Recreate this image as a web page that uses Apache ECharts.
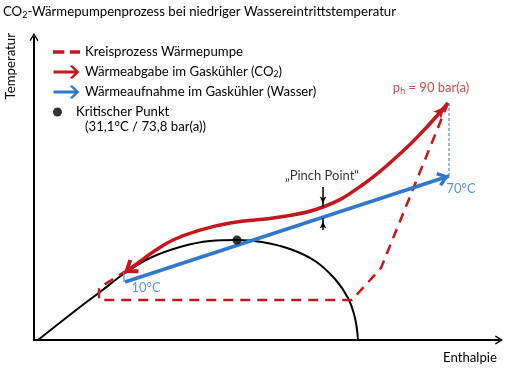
<!DOCTYPE html>
<html><head><meta charset="utf-8">
<script src="https://cdn.jsdelivr.net/npm/echarts@6/dist/echarts.min.js"></script>
<style>html,body{margin:0;padding:0;background:#fff}#c{width:506px;height:368px}</style>
</head><body><div id="c"></div>
<script>
// ---- data (x: Enthalpie, y: Temperatur; schematic units) ----
const saturationCurve = [[4,0],[46,33],[66,48],[91,67],[116,82],[146,93],[176,99],[203,100],[228,98],[256,91],[281,79],[301,61],[314,42],[321,22],[324,0]];
const criticalPoint = [[203,100]];
const co2HeatRelease = [[414,237],[391,211],[368,188],[327,154],[289,133],[246,123],[196,117],[163,109],[139,100],[119,88],[104,77],[90,67]];
const waterHeatUptake = [[91,58],[415,164]];
const heatPumpCycle = [[414,237],[347,72],[318,40],[65,40],[65,52],[90,68]];
const waterOutletGuide = [[415,237],[415,164]];
const waterInletGuide = [[90,68],[90,58]];
const pinchUpper = [[289,153],[289,133]];
const pinchLower = [[289,110],[289,122]];
const labelTexts = ['p{sub|h} = 90 bar(a)', '70°C', '10°C', '„Pinch Point“'];
const labelAnchors = [[397,252],[427,151],[112,52],[288,164]];
const seriesNames = ['Kreisprozess Wärmepumpe','Wärmeabgabe im Gaskühler (CO₂)','Wärmeaufnahme im Gaskühler (Wasser)','Kritischer Punkt'];
const criticalNote = '(31,1°C / 73,8 bar(a))';
const titleText = 'CO{sub|2}-Wärmepumpenprozess bei niedriger Wassereintrittstemperatur';
const xName = 'Enthalpie', yName = 'Temperatur';

// ---- styles ----
const F = 'Lato, "Open Sans", sans-serif';
const FS = 13.2;
const RED = '#c5161d', BLUE = '#2f78cf', LIGHTBLUE = '#6fa3dc', BLACK = '#000';
const labelColors = [RED, BLUE, BLUE, BLACK];
const CHEV = 'path://M7,0 L14,9 L11.5,11 L7,5 L2.5,11 L0,9 Z';
const AXARROW = 'path://M5,0 L10,8 L8.6,8.8 L5,2.6 L1.4,8.8 L0,8 Z';
const LEG_ARROW = 'path://M0,5.5 L21,5.5 L16.5,1.6 L18.4,0 L26,7 L18.4,14 L16.5,12.4 L21,8.5 L0,8.5 Z';
const LEG_DASH = 'path://M0,0h10v3h-10z M15,0h9v3h-9z';

function arrowSeg(tail, tip, len){
  const dx=tip[0]-tail[0], dy=tip[1]-tail[1], d=Math.hypot(dx,dy), ux=dx/d, uy=dy/d;
  const e=[tip[0]-ux*len/2, tip[1]-uy*len/2];
  return [e[0]-ux*0.6, e[1]-uy*0.6, e];
}
function mk(tail, tip, sym, size){
  const r = arrowSeg(tail, tip, size[1]);
  return [{coord:[r[0],r[1]], symbol:'none'}, {coord:r[2], symbol:sym, symbolSize:size}];
}
const n = co2HeatRelease.length;

const chart = echarts.init(document.getElementById('c'), null, {renderer:'canvas'});
chart.setOption({
  animation:false,
  backgroundColor:'#fff',
  title:{text:titleText, left:3, top:3, padding:0, textStyle:{fontFamily:F, fontSize:FS, fontWeight:'normal', color:BLACK, lineHeight:17,
    rich:{sub:{fontFamily:F, fontSize:9, lineHeight:9, verticalAlign:'bottom', color:BLACK}}}},
  grid:{left:34, right:7, top:37, bottom:28},
  xAxis:{type:'value', min:0, max:465, name:xName, nameLocation:'end', nameGap:-2,
    nameTextStyle:{fontFamily:F, fontSize:FS, color:BLACK, align:'right', verticalAlign:'top', padding:[11,0,0,0]},
    axisLine:{show:true, onZero:false, lineStyle:{color:BLACK, width:2}, symbol:['none', AXARROW], symbolSize:[10,8]},
    axisTick:{show:false}, axisLabel:{show:false}, splitLine:{show:false}},
  yAxis:{type:'value', min:0, max:303, name:yName, nameLocation:'end', nameGap:4, nameRotate:90,
    nameTextStyle:{fontFamily:F, fontSize:FS, color:BLACK, align:'right', verticalAlign:'bottom', padding:[0,0,17,0]},
    axisLine:{show:true, onZero:false, lineStyle:{color:BLACK, width:2}, symbol:['none', AXARROW], symbolSize:[10,8]},
    axisTick:{show:false}, axisLabel:{show:false}, splitLine:{show:false}},
  legend:[{
    orient:'vertical', left:53, top:45, padding:0, itemWidth:27, itemHeight:14, itemGap:6, selectedMode:false,
    textStyle:{fontFamily:F, fontSize:FS, color:BLACK, lineHeight:14, rich:{sub:{fontFamily:F, fontSize:8.5, lineHeight:8, verticalAlign:'bottom', color:BLACK}}},
    formatter: s => s.replace('₂','{sub|2}'),
    data:[{name:seriesNames[0], icon:LEG_DASH},{name:seriesNames[1], icon:LEG_ARROW},{name:seriesNames[2], icon:LEG_ARROW}]
  },{
    orient:'vertical', left:53, top:105, padding:0, itemWidth:27, itemHeight:9, selectedMode:false,
    textStyle:{fontFamily:F, fontSize:FS, color:BLACK, lineHeight:14},
    data:[{name:seriesNames[3], icon:'circle'}]
  }],
  graphic:[{type:'text', left:85, top:120, style:{text:criticalNote, font:FS+'px '+F, fill:BLACK}}],
  series:[
    {name:'Sättigungslinie', type:'line', data:saturationCurve, smooth:0.4, symbol:'none', silent:true,
      lineStyle:{color:BLACK, width:2}, z:2},
    {name:seriesNames[0], type:'line', data:heatPumpCycle, symbol:'none', silent:true,
      lineStyle:{color:RED, width:2.5, type:[10,7]}, itemStyle:{color:RED}, z:3},
    {name:'guide', type:'line', data:waterOutletGuide, symbol:'none', silent:true,
      lineStyle:{color:LIGHTBLUE, width:1.5, type:[3,2]}, z:3},
    {name:'guide2', type:'line', data:waterInletGuide, symbol:'none', silent:true,
      lineStyle:{color:LIGHTBLUE, width:1.5}, z:3},
    {name:seriesNames[2], type:'line', data:waterHeatUptake, symbol:'none', silent:true,
      lineStyle:{color:BLUE, width:3.5}, itemStyle:{color:BLUE}, z:4,
      markLine:{silent:true, animation:false, label:{show:false}, lineStyle:{color:BLUE, width:3.5, type:'solid'},
        data:[mk(waterHeatUptake[0], waterHeatUptake[1], CHEV, [15,12])]}},
    {name:seriesNames[1], type:'line', data:co2HeatRelease, smooth:0.45, symbol:'none', silent:true,
      lineStyle:{color:RED, width:3.5}, itemStyle:{color:RED}, z:5,
      markLine:{silent:true, animation:false, label:{show:false}, lineStyle:{color:RED, width:3.5, type:'solid'},
        data:[mk(co2HeatRelease[1], co2HeatRelease[0], 'arrow', [8,11]),
              mk(co2HeatRelease[n-2], co2HeatRelease[n-1], CHEV, [17,14])]}},
    {name:'pinch', type:'line', data:pinchUpper, symbol:'none', silent:true, lineStyle:{color:BLACK, width:1.5}, z:6,
      markLine:{silent:true, animation:false, label:{show:false}, lineStyle:{color:BLACK, width:1.5, type:'solid'},
        data:[mk(pinchUpper[0], pinchUpper[1], 'arrow', [5,7]), mk(pinchLower[0], pinchLower[1], 'arrow', [5,7])]}},
    {name:'pinch2', type:'line', data:pinchLower, symbol:'none', silent:true, lineStyle:{color:BLACK, width:1.5}, z:6},
    {name:seriesNames[3], type:'scatter', data:criticalPoint, symbol:'circle', symbolSize:9, silent:true,
      itemStyle:{color:BLACK}, z:7},
    {name:'labels', type:'scatter', symbolSize:0, silent:true, z:8,
      data: labelAnchors.map((a,i)=>({value:a, label:{color:labelColors[i], formatter:labelTexts[i],
        rich:{sub:{fontFamily:F, fontSize:9, lineHeight:9, verticalAlign:'bottom', color:labelColors[i]}}}})),
      label:{show:true, position:'inside', fontFamily:F, fontSize:13, lineHeight:15}}
  ]
});
</script></body></html>
